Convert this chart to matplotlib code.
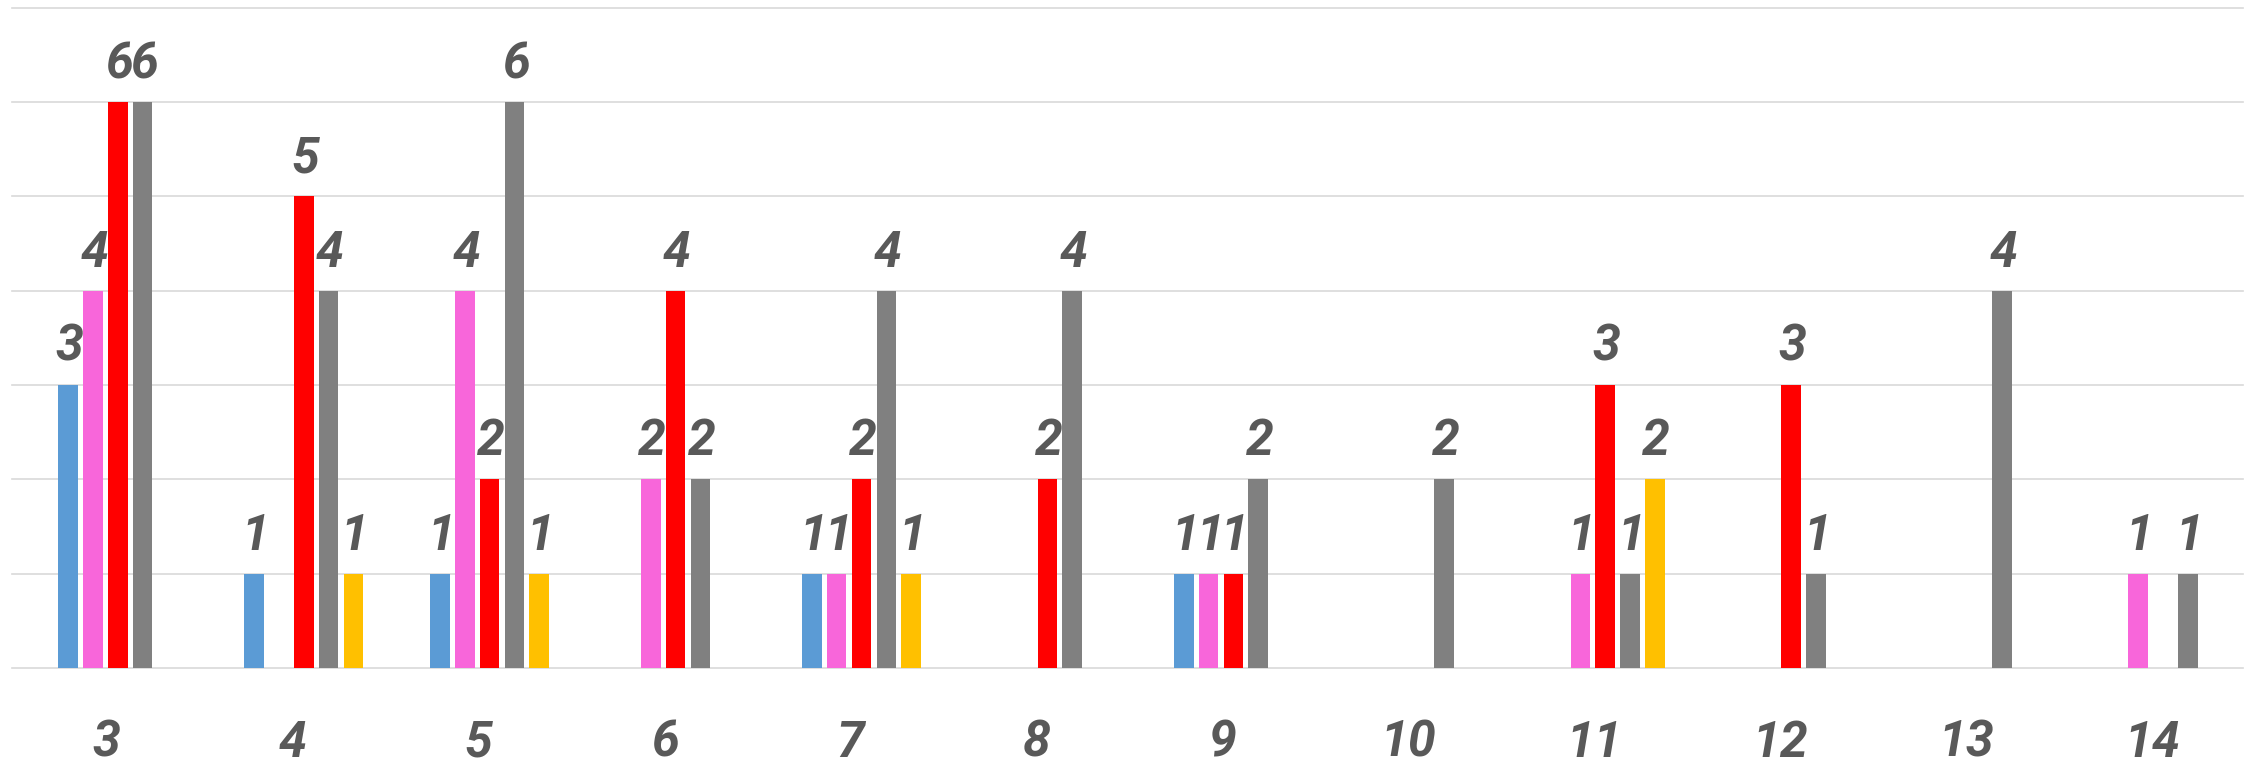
import matplotlib
matplotlib.use("Agg")
import matplotlib.pyplot as plt
import matplotlib.transforms as mtransforms
import numpy as np

# categorias e valores por serie
categorias = ["3", "4", "5", "6", "7", "8", "9", "10", "11", "12", "13", "14"]
azul     = [3, 1, 1, 0, 1, 0, 1, 0, 0, 0, 0, 0]
rosa     = [4, 0, 4, 2, 1, 0, 1, 0, 1, 0, 0, 1]
vermelho = [6, 5, 2, 4, 2, 2, 1, 0, 3, 3, 0, 0]
cinza    = [6, 4, 6, 2, 4, 4, 2, 2, 1, 1, 4, 1]
amarelo  = [0, 1, 1, 0, 1, 0, 0, 0, 2, 0, 0, 0]

series = [azul, rosa, vermelho, cinza, amarelo]
cores = ["#5B9BD5", "#F866DA", "#FF0000", "#808080", "#FFC000"]

fonte = ["Roboto", "DejaVu Sans"]
cor_texto = "#595959"

fig = plt.figure(figsize=(22.52, 7.62), dpi=100)
ax = fig.add_axes([0.00546, 0.1236, 0.9905, 0.8661])

x = np.arange(len(categorias))
largura = 0.1054
passo = 0.1334

for k, (vals, cor) in enumerate(zip(series, cores)):
    pos = x + (k - 2) * passo
    barras = ax.bar(pos, vals, largura, color=cor, zorder=3)
    for b, v in zip(barras, vals):
        if v == 0:
            continue
        ax.annotate(str(v), (b.get_x() + b.get_width() / 2, v),
                    xytext=(1, 17.3), textcoords="offset points",
                    ha="center", va="baseline", fontsize=36,
                    fontweight="bold", fontstyle="italic",
                    family=fonte, color=cor_texto)

ax.set_ylim(0, 7)
ax.set_xlim(-0.5675, 11.43)
ax.set_yticks(range(0, 8))
ax.set_yticklabels([])
ax.set_xticks(x)
ax.set_xticklabels(categorias, fontsize=36, fontweight="bold",
                   fontstyle="italic", family=fonte, color=cor_texto,
                   va="baseline")
ax.tick_params(axis="x", length=0, pad=64)
ax.tick_params(axis="y", length=0)
# rotulos do eixo ficam um pouco a esquerda do centro do grupo
desloc = mtransforms.ScaledTranslation(-0.11, 0, fig.dpi_scale_trans)
for lb in ax.get_xticklabels():
    lb.set_transform(lb.get_transform() + desloc)
for s in ax.spines.values():
    s.set_visible(False)
ax.grid(axis="y", color="#D9D9D9", linewidth=1.2)
ax.set_axisbelow(True)
for gl in ax.get_ygridlines():
    gl.set_clip_on(False)

fig.savefig("out.png", dpi=100)
